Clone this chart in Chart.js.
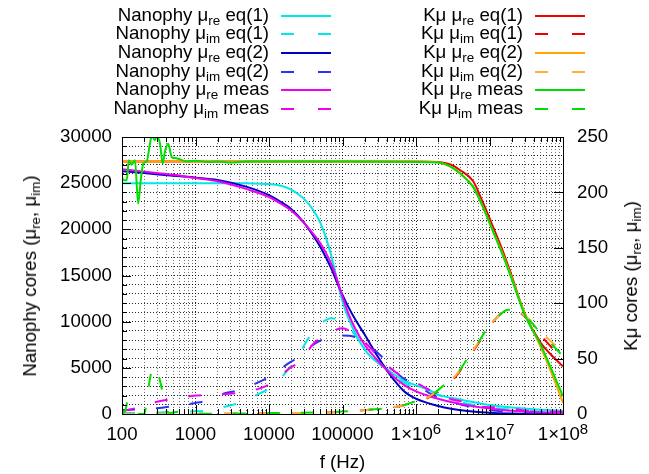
<!DOCTYPE html>
<html>
<head>
<meta charset="utf-8">
<script src="https://cdn.jsdelivr.net/npm/chart.js@4.4.1/dist/chart.umd.min.js"></script>
<style>
body { margin: 0; background: #fff; font-family: "Liberation Sans", Arial, sans-serif; color: #000; }
#wrap { position: relative; width: 649px; height: 474px; overflow: hidden; }
#chart { position: absolute; left: 0; top: 0; }
.keytext { position: absolute; font-size: 18.67px; line-height: 20px; white-space: nowrap; text-align: right; }
.keyline { position: absolute; }
.title { position: absolute; font-size: 18.67px; line-height: 20px; white-space: nowrap; }
.xtick { position: absolute; font-size: 18.67px; line-height: 22px; white-space: nowrap; transform: translateX(-50%); }
.rot { transform: translate(-50%, -50%) rotate(-90deg); }
sub { font-size: 0.72em; vertical-align: -0.3em; line-height: 0; }
sup { font-size: 0.8em; vertical-align: 0.42em; line-height: 0; }
</style>
</head>
<body>
<div id="wrap">
  <canvas id="chart" width="649" height="474"></canvas>
  <div id="key"></div>
  <div id="xticks"></div>
  <div class="title" id="xtitle">f (Hz)</div>
  <div class="title rot" id="ytitle">Nanophy cores (μ<sub>re</sub>, μ<sub>im</sub>)</div>
  <div class="title rot" id="y2title">Kμ cores (μ<sub>re</sub>, μ<sub>im</sub>)</div>
</div>
<script>
// ---- data ----
const xDecades = [100, 1e3, 1e4, 1e5, 1e6, 1e7, 1e8];
const xTickLabels = ['100', '1000', '10000', '100000', '1×10<sup>6</sup>', '1×10<sup>7</sup>', '1×10<sup>8</sup>'];

// Nanophy, real parts (left axis)
const freqNanoRe = [100, 200, 500, 1e3, 2e3, 5e3, 1e4, 1.5e4, 2e4, 3e4, 4e4, 5e4, 6e4, 7e4, 8e4,
    1e5, 1.2e5, 1.5e5, 2e5, 2.5e5, 3e5, 4e5, 5e5, 7e5, 1e6, 1.5e6, 2e6, 3e6, 5e6, 1e7, 2e7, 5e7, 1e8];
const nanoReEq1 = [25000, 25000, 25000, 25000, 25000, 24980, 24900, 24700, 24300, 23300, 22100, 20700, 19000, 17200, 15300,
    12200, 10400, 8700, 7000, 6100, 5600, 4900, 4300, 3600, 3100, 2600, 2100, 1750, 1400, 975, 700, 450, 360];
const nanoReEq2 = [26300, 26100, 25800, 25600, 25350, 24600, 23700, 22900, 22200, 20700, 19300, 18100, 16900, 15800, 14700,
    12900, 11600, 10200, 8600, 7300, 6250, 4750, 3700, 2400, 1650, 1150, 870, 580, 330, 130, 50, 15, 5];
const nanoReMeas = [26500, 26250, 25900, 25550, 25200, 24350, 23500, 22700, 22050, 20700, 19500, 18500, 17400, 16300, 15100,
    12700, 10900, 9200, 7500, 6500, 5800, 4750, 4000, 3100, 2450, 1950, 1650, 1300, 950, 600, 350, 200, 120];

// Nanophy, imaginary parts (left axis)
const freqNanoIm = [100, 150, 300, 450, 1000, 1400, 2500, 4000, 7500, 1.1e4, 1.9e4, 2.7e4, 4e4, 5.5e4, 7e4,
    1e5, 1.4e5, 2e5, 3e5, 4e5, 6.5e5, 1e6, 1.6e6, 2e6, 3e6, 5e6, 8e6, 1.5e7, 3e7, 1e8];
const nanoImEq1 = [100, 120, 150, 200, 300, 360, 790, 1230, 2240, 2960, 5000, 6800, 9000, 10000, 10370,
    9900, 8800, 7200, 5600, 4700, 3500, 2800, 2450, 2060, 1600, 1100, 800, 550, 350, 150];
const nanoImEq2 = [430, 480, 620, 790, 1200, 1440, 2240, 2600, 3500, 4220, 5560, 6310, 7500, 8100, 8350,
    8500, 8400, 7700, 6640, 5670, 3950, 3250, 2150, 1800, 1350, 850, 500, 300, 170, 50];
const nanoImMeas = [300, 620, 1330, 1590, 2000, 2060, 2170, 2300, 2780, 3390, 4950, 5740, 7600, 8450, 8900,
    9280, 8740, 7800, 6300, 5300, 4040, 3390, 2500, 2100, 1600, 1250, 790, 700, 380, 250];

// Kμ, real parts (right axis)
const freqKmuRe = [100, 1e3, 1e4, 1e5, 1e6, 2e6, 3e6, 4e6, 6e6, 8e6, 1.1e7, 1.5e7, 2e7, 3e7, 5e7, 7e7, 1e8];
const kmuReEq1 = [228, 228, 228, 228, 228, 227.5, 225, 220, 210, 192, 170, 148, 125, 91, 64, 53, 43];
const kmuReEq2 = [228, 228, 228, 228, 228, 227, 223, 217, 205, 188, 166, 145, 123, 91, 60, 37, 10];
const freqKmuReMeas = [100, 104, 116, 124, 135, 150, 166, 180, 195, 217, 240, 254, 281, 297, 329, 358, 384, 426, 474, 526,
    600, 760, 1000, 1500, 2000, 3000, 5000, 1e4, 1e5, 1e6, 2e6, 3e6, 4e6, 6e6, 8e6, 1.1e7, 1.5e7, 2e7, 3e7, 5e7, 7e7, 1e8];
const kmuReMeas = [214, 211, 211, 229, 225, 229, 190, 211, 226, 228, 244, 251, 247, 251, 244, 226, 237, 244, 232, 231,
    230, 228, 228.5, 227.5, 228, 227, 228, 228, 228, 227.5, 227, 223, 217, 205, 188, 166, 144, 122, 90, 62, 40, 16];

// Kμ, imaginary parts (right axis)
const freqKmuIm = [100, 1e3, 1e4, 1e5, 3e5, 5e5, 1e6, 1.5e6, 2.5e6, 3.5e6, 5e6, 6.5e6, 1e7, 1.3e7, 1.8e7, 2.5e7, 3.4e7, 5e7, 7e7, 1e8];
const kmuImEq1 = [0, 0.1, 0.6, 2, 4.5, 6, 11, 15, 26, 34, 49, 60, 79, 88, 94, 92, 85, 71, 60, 48];
const kmuImEq2 = [0, 0.1, 0.6, 2, 4.5, 6, 11, 15.5, 27, 35, 50, 61, 80, 88, 94, 92, 86, 74, 65, 55];
const freqKmuImMeas = [100, 112, 118, 128, 140, 160, 200, 210, 218, 235, 255, 275, 295, 320, 340, 370, 400, 450, 600, 720,
    1000, 1e4, 1e5, 3e5, 5e5, 1e6, 1.5e6, 2.5e6, 3.5e6, 5e6, 6.5e6, 1e7, 1.3e7, 1.8e7, 2.5e7, 3.4e7, 5e7, 7e7, 1e8];
const kmuImMeas = [0, 4, 11, 12, 2, 0, 0, 5, 12, 28, 40, 43, 41, 33, 26, 12, 3, 1, 2, 1,
    0.3, 0.8, 2.2, 4.5, 6, 11.5, 15.5, 27, 35, 50, 61, 80, 88, 94, 91, 85, 73, 63, 52];

const seriesNames = [
    'Nanophy μ<sub>re</sub> eq(1)', 'Nanophy μ<sub>im</sub> eq(1)', 'Nanophy μ<sub>re</sub> eq(2)',
    'Nanophy μ<sub>im</sub> eq(2)', 'Nanophy μ<sub>re</sub> meas', 'Nanophy μ<sub>im</sub> meas',
    'Kμ μ<sub>re</sub> eq(1)', 'Kμ μ<sub>im</sub> eq(1)', 'Kμ μ<sub>re</sub> eq(2)',
    'Kμ μ<sub>im</sub> eq(2)', 'Kμ μ<sub>re</sub> meas', 'Kμ μ<sub>im</sub> meas'
];
const seriesColors = ['#00e8e8', '#00e8e8', '#0000c8', '#3030f0', '#f000f0', '#f000f0',
    '#ee0000', '#ee0000', '#ffa500', '#ffb030', '#00e000', '#00e000'];
const seriesX = [freqNanoRe, freqNanoIm, freqNanoRe, freqNanoIm, freqNanoRe, freqNanoIm,
    freqKmuRe, freqKmuIm, freqKmuRe, freqKmuIm, freqKmuReMeas, freqKmuImMeas];
const seriesY = [nanoReEq1, nanoImEq1, nanoReEq2, nanoImEq2, nanoReMeas, nanoImMeas,
    kmuReEq1, kmuImEq1, kmuReEq2, kmuImEq2, kmuReMeas, kmuImMeas];

const dashPattern = [13, 21];

// ---- layout ----
const plotLeft = 122, plotRight = 563, plotTop = 137, plotBottom = 414;

function pts(xs, ys) {
    return xs.map((x, i) => ({ x: x, y: ys[i] }));
}

let datasets = [];
for (let i = 0; i < seriesNames.length; i++) {
    const dashed = i % 2 === 1;
    datasets.push({
        data: pts(seriesX[i], seriesY[i]),
        borderColor: seriesColors[i],
        borderWidth: 2,
        borderDash: dashed ? dashPattern : [],
        pointRadius: 0,
        cubicInterpolationMode: 'monotone',
        yAxisID: i < 6 ? 'y' : 'y2',
        order: 20 - i
    });
}

// x ticks: every 1..9 inside each decade
let xTickValues = [];
for (let k = 0; k < xDecades.length - 1; k++) {
    for (let m = 1; m <= 9; m++) xTickValues.push(m * xDecades[k]);
}
xTickValues.push(xDecades[xDecades.length - 1]);

const frameAndTics = {
    id: 'frameAndTics',
    afterDraw(chart) {
        const { ctx, chartArea: a, scales } = chart;
        ctx.save();
        ctx.strokeStyle = '#000';
        ctx.lineWidth = 1;
        ctx.setLineDash([]);
        ctx.beginPath();
        scales.x.ticks.forEach(t => {
            const px = Math.round(scales.x.getPixelForValue(t.value)) + 0.5;
            const len = xDecades.includes(t.value) ? 9 : 5;
            ctx.moveTo(px, a.bottom); ctx.lineTo(px, a.bottom - len);
            ctx.moveTo(px, a.top); ctx.lineTo(px, a.top + len);
        });
        scales.y.ticks.forEach(t => {
            const py = Math.round(scales.y.getPixelForValue(t.value)) + 0.5;
            const len = t.value % 5000 === 0 ? 9 : 5;
            ctx.moveTo(a.left, py); ctx.lineTo(a.left + len, py);
        });
        scales.y2.ticks.forEach(t => {
            const py = Math.round(scales.y2.getPixelForValue(t.value)) + 0.5;
            ctx.moveTo(a.right, py); ctx.lineTo(a.right - 9, py);
        });
        ctx.stroke();
        ctx.strokeRect(Math.round(a.left) + 0.5, Math.round(a.top) + 0.5,
            Math.round(a.right - a.left), Math.round(a.bottom - a.top));
        ctx.restore();
    }
};

const tickFont = { family: '"Liberation Sans", Arial, sans-serif', size: 18.67 };

const chart = new Chart(document.getElementById('chart'), {
    type: 'line',
    data: { datasets: datasets },
    options: {
        responsive: false,
        animation: false,
        layout: { padding: { top: plotTop, left: 0, right: 0, bottom: 0 } },
        plugins: { legend: { display: false }, tooltip: { enabled: false } },
        scales: {
            x: {
                type: 'logarithmic',
                min: 100,
                max: 1e8,
                afterBuildTicks: s => { s.ticks = xTickValues.map(v => ({ value: v })); },
                afterFit: s => { s.height = 474 - plotBottom; },
                grid: {
                    drawTicks: false,
                    lineWidth: 1,
                    color: c => (c.tick && xDecades.includes(c.tick.value)) ? 'rgba(0,0,0,0.85)' : 'rgba(0,0,0,0.55)'
                },
                border: { color: '#000', dash: [1, 2] },
                // labels are placed as html below (they need superscripts)
                ticks: { autoSkip: false, maxRotation: 0, font: tickFont, callback: () => '' }
            },
            y: {
                position: 'left',
                min: 0,
                max: 30000,
                afterFit: s => { s.width = plotLeft; },
                grid: { drawTicks: false, lineWidth: 1, color: 'rgba(0,0,0,0.85)' },
                border: { color: '#000', dash: [1, 2] },
                ticks: {
                    stepSize: 1000,
                    autoSkip: false,
                    padding: 10,
                    color: '#000',
                    font: tickFont,
                    callback: v => (v % 5000 === 0 ? String(v) : '')
                }
            },
            y2: {
                position: 'right',
                min: 0,
                max: 250,
                afterFit: s => { s.width = 649 - plotRight; },
                grid: { drawOnChartArea: false, drawTicks: false },
                border: { color: '#000' },
                ticks: {
                    stepSize: 50,
                    autoSkip: false,
                    padding: 14,
                    color: '#000',
                    font: tickFont,
                    callback: v => String(v)
                }
            }
        }
    },
    plugins: [frameAndTics]
});

// ---- x tick labels, placed from the x scale ----
const xticks = document.getElementById('xticks');
xDecades.forEach((v, k) => {
    let d = document.createElement('div');
    d.className = 'xtick';
    d.innerHTML = xTickLabels[k];
    d.style.left = chart.scales.x.getPixelForValue(v) + 'px';
    d.style.top = '423px';
    xticks.appendChild(d);
});

// ---- key (legend) ----
const key = document.getElementById('key');
const keyTextRight = [269, 523];
const keyLineLeft = [281, 535];
const keyLineLen = 50;
for (let i = 0; i < seriesNames.length; i++) {
    const col = i < 6 ? 0 : 1;
    const row = i % 6;
    const cy = 15.5 + row * 18.7;
    let t = document.createElement('div');
    t.className = 'keytext';
    t.innerHTML = seriesNames[i];
    t.style.right = (649 - keyTextRight[col]) + 'px';
    t.style.top = (cy - 11) + 'px';
    key.appendChild(t);

    let svg = document.createElementNS('http://www.w3.org/2000/svg', 'svg');
    svg.setAttribute('class', 'keyline');
    svg.setAttribute('width', keyLineLen);
    svg.setAttribute('height', 4);
    svg.style.left = keyLineLeft[col] + 'px';
    svg.style.top = (cy - 2) + 'px';
    let ln = document.createElementNS('http://www.w3.org/2000/svg', 'line');
    ln.setAttribute('x1', 0); ln.setAttribute('x2', keyLineLen);
    ln.setAttribute('y1', 2); ln.setAttribute('y2', 2);
    ln.setAttribute('stroke', seriesColors[i]);
    ln.setAttribute('stroke-width', 2);
    if (i % 2 === 1) ln.setAttribute('stroke-dasharray', '13 24');
    svg.appendChild(ln);
    key.appendChild(svg);
}

// ---- axis titles ----
const xt = document.getElementById('xtitle');
xt.style.left = ((plotLeft + plotRight) / 2) + 'px';
xt.style.top = '452px';
xt.style.transform = 'translateX(-50%)';
const yt = document.getElementById('ytitle');
yt.style.left = '30px';
yt.style.top = ((plotTop + plotBottom) / 2) + 'px';
const y2t = document.getElementById('y2title');
y2t.style.left = '631px';
y2t.style.top = ((plotTop + plotBottom) / 2) + 'px';
</script>
</body>
</html>
